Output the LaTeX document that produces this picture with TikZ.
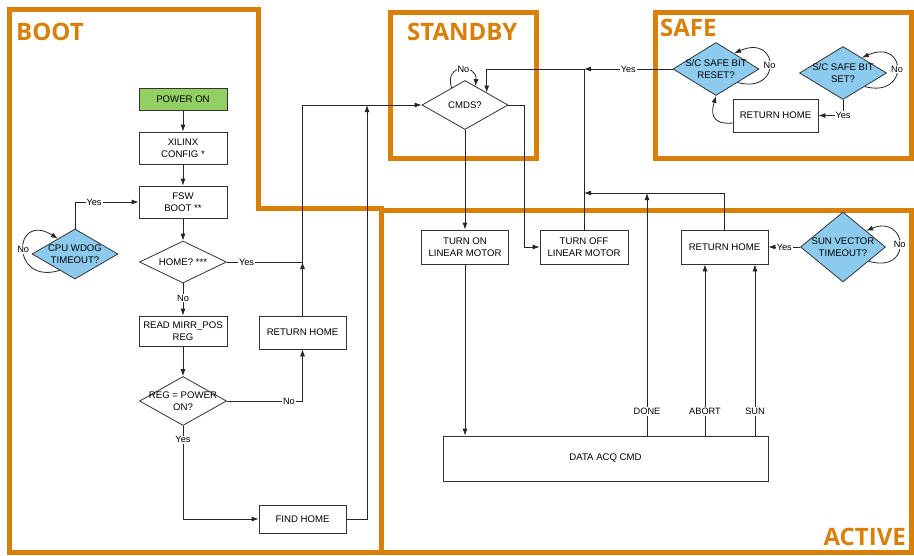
\documentclass[tikz,border=0pt]{standalone}
\usepackage{fontspec}
\setmainfont{Liberation Sans}
\newfontfamily\titlefont{Open Sans}
\usetikzlibrary{arrows.meta,shapes.geometric}
\definecolor{modeorange}{RGB}{217,128,10}
\definecolor{flagblue}{RGB}{141,203,238}
\definecolor{startgreen}{RGB}{146,208,100}

\begin{document}
\begin{tikzpicture}[%
        x=1pt, y=-1pt,%
        >={Latex[length=7pt,width=5pt]},%
        font=\fontsize{9.6}{11.5}\selectfont%
    ]
        \tikzset{%
            frame/.style={draw=modeorange, line width=5pt},%
            title/.style={text=modeorange, inner sep=0pt, font=\titlefont\bfseries\fontsize{24}{24}\selectfont},%
            box/.style={draw=black!80, line width=0.8pt, inner sep=0pt, align=center, fill=white},%
            decision/.style={diamond, draw=black!80, line width=0.8pt, inner sep=0pt, fill=white},%
            flag/.style={decision, fill=flagblue},%
            dtext/.style={align=center, inner sep=0pt},%
            lbl/.style={fill=white, inner sep=1pt, font=\fontsize{9.2}{10}\selectfont},%
            link/.style={draw=black!85, line width=0.8pt},%
        }%
        \useasboundingbox (0,0) rectangle (914,555);%

        %
        % Modes
        %
        \draw[frame] (9.5,9.5) -- (258.5,9.5) -- (258.5,208) -- (381,208) -- (381,552) -- (9.5,552) -- cycle;%
        \draw[frame] (381,210) rectangle (911.5,552);%
        \draw[frame] (390,12.5) rectangle (536,158);%
        \draw[frame] (655,12.5) rectangle (911.5,158);%
        \node[title, anchor=west] (tboot) at (16,32) {BOOT};%
        \node[title, anchor=west] (tstandby) at (407,32) {STANDBY};%
        \node[title, anchor=west] (tsafe) at (660,28) {SAFE};%
        \node[title, anchor=east] (tactive) at (906,537) {ACTIVE};%

        %
        % Boot
        %
        \node[box, fill=startgreen, minimum width=88pt, minimum height=22pt] (pwron) at (183,99) {POWER ON};%
        \node[box, minimum width=88pt, minimum height=32pt] (xilinx) at (183,148) {XILINX\\CONFIG *};%
        \node[box, minimum width=88pt, minimum height=32pt] (fsw) at (183,202) {FSW\\BOOT **};%
        \node[decision, minimum width=87pt, minimum height=42pt, label={[dtext]center:HOME? ***}] (home) at (183,262) {};%
        \node[box, minimum width=88pt, minimum height=30pt] (readreg) at (183,331) {READ MIRR\_POS\\REG};%
        \node[decision, minimum width=87pt, minimum height=49pt, label={[dtext]center:REG = POWER\\ON?}] (regpwr) at (183,401) {};%
        \node[box, minimum width=87pt, minimum height=33pt] (rethboot) at (302.5,332.5) {RETURN HOME};%
        \node[box, minimum width=87pt, minimum height=28pt] (findhome) at (302.5,519) {FIND HOME};%
        \node[flag, minimum width=86pt, minimum height=50pt, label={[dtext]center:CPU WDOG\\TIMEOUT?}] (wdog) at (75,254) {};%
        \coordinate (jhome) at (302.5,262);%
        \coordinate (jfind) at (367,105);%

        %
        % Standby
        %
        \node[decision, minimum width=86pt, minimum height=49pt, label={[dtext]center:CMDS?}] (cmds) at (465,105) {};%
        \coordinate (jsafe) at (584,69);%

        %
        % Safe
        %
        \node[flag, minimum width=86pt, minimum height=53pt, label={[dtext]center:S/C SAFE BIT\\RESET?}] (safereset) at (716,69) {};%
        \node[flag, minimum width=87pt, minimum height=53pt, label={[dtext]center:S/C SAFE BIT\\SET?}] (safeset) at (843,73) {};%
        \node[box, minimum width=85pt, minimum height=33pt] (rethsafe) at (775.5,115.5) {RETURN HOME};%

        %
        % Active
        %
        \node[box, minimum width=87pt, minimum height=34pt] (turnon) at (465,247) {TURN ON\\LINEAR MOTOR};%
        \node[box, minimum width=88pt, minimum height=34pt] (turnoff) at (584,247) {TURN OFF\\LINEAR MOTOR};%
        \node[box, minimum width=87pt, minimum height=34pt] (rethact) at (724.5,247) {RETURN HOME};%
        \node[flag, minimum width=85pt, minimum height=70pt, label={[dtext]center:SUN VECTOR\\TIMEOUT?}] (sunvec) at (843,247) {};%
        \node[box, minimum width=325pt, minimum height=45pt] (dataacq) at (605.5,458.5) {DATA ACQ CMD};%
        \coordinate (jdone) at (647,193);%
        \coordinate (jret) at (584,193);%

        %
        % Transitions
        %
        % Boot sequence
        \draw[link,->] (pwron) -- (xilinx);%
        \draw[link,->] (xilinx) -- (fsw);%
        \draw[link,->] (fsw) -- (home);%
        \draw[link,->] (home) -- node[lbl, pos=0.45] {No} (readreg);%
        \draw[link,->] (readreg) -- (regpwr);%
        \draw[link,->] (regpwr.east) -| node[lbl, pos=0.41] {No} (rethboot.south);%
        \draw[link,->] (regpwr.south) |- node[lbl, pos=0.075] {Yes} (findhome.west);%
        \draw[link] (home.east) -- node[lbl, pos=0.26] {Yes} (jhome);%
        \draw[link,->] (rethboot.north) -- (jhome);%
        \draw[link,->] (jhome) |- (cmds.west);%
        \draw[link,->] (findhome.east) -| (jfind);%

        % Watchdog
        \draw[link,->] (wdog.north) |- node[lbl, pos=0.65] {Yes} (fsw.west);%
        \draw[link,->] (wdog.227) .. controls +(-50,15) and +(-45,-28) .. node[lbl, pos=0.5] {No} (wdog.138);%

        % Commands
        \draw[link,->] (cmds.128) .. controls +(-8,-25) and +(2,-22) .. node[lbl, pos=0.55, inner sep=0.5pt] {No} (cmds.61);%
        \draw[link,->] (cmds) -- (turnon);%
        \draw[link,->] (cmds.east) -- ++(16,0) |- (turnoff.west);%
        \draw[link,->] (turnoff.north) -- (jsafe) -| (cmds.north east);%

        % Safe bits
        \draw[link,->] (safereset.west) -- node[lbl] {Yes} (jsafe);%
        \foreach \n/\a in {safereset/41,safeset/39} {%
            \draw[link,->] (\n.-32) .. controls +(45,12) and +(45,-20) .. node[lbl] {No} (\n.\a);%
        }%
        \draw[link,->] (safeset.south) |- node[lbl, pos=0.5] {Yes} (rethsafe.east);%
        \draw[link,->] (rethsafe.190) .. controls +(-24,2) and +(-4,14) .. (safereset.south);%

        % Data acquisition
        \draw[link,->] (turnon) -- (turnon |- dataacq.north);%
        \draw[link,->] (dataacq.north -| jdone) -- node[lbl, pos=0.1] {DONE} (jdone);%
        \draw[link,->] (rethact.north) |- (jret);%
        \foreach \x/\t in {705/ABORT,755/SUN} {%
            \coordinate (c\t) at (\x,0);%
            \draw[link,->] (dataacq.north -| c\t) -- node[lbl, pos=0.14] {\t} (rethact.south -| c\t);%
        }%
        \draw[link,->] (sunvec.west) -- node[lbl] {Yes} (rethact.east);%
        \draw[link,->] (sunvec.-29) .. controls +(45,13) and +(41,-17) .. node[lbl] {No} (sunvec.35);%
    \end{tikzpicture}
\end{document}
